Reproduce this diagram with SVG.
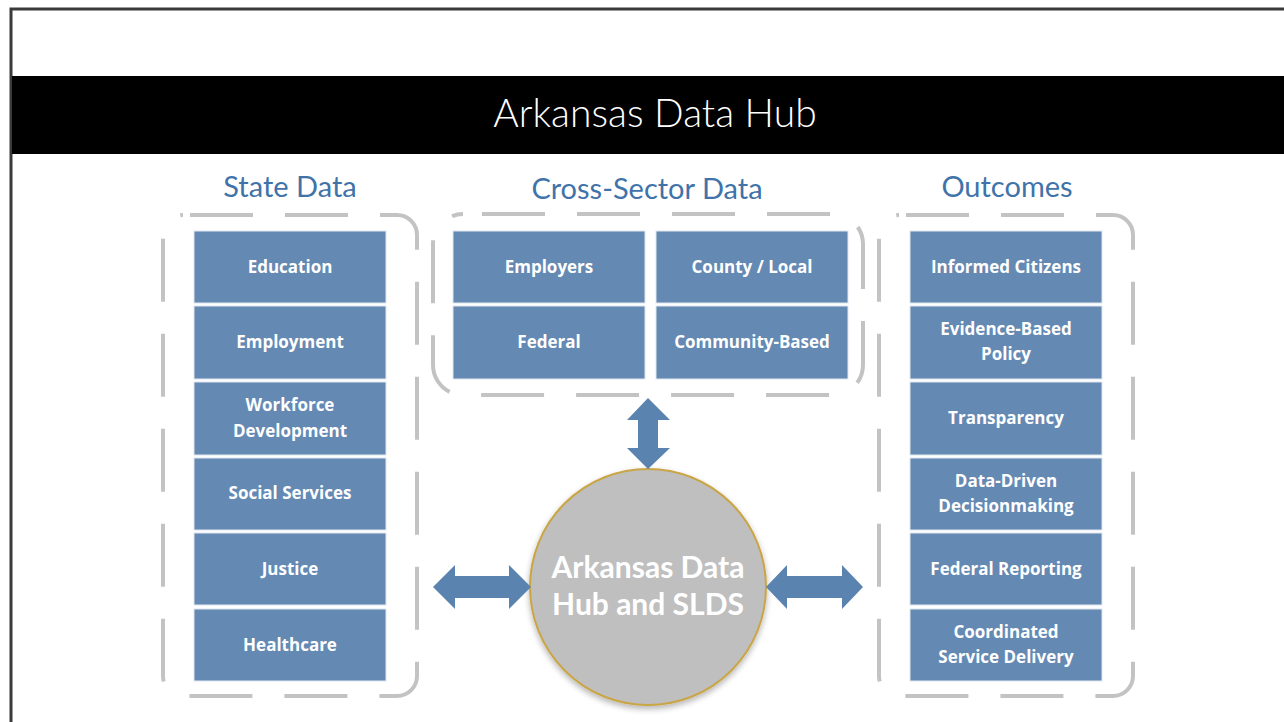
<svg xmlns="http://www.w3.org/2000/svg" width="1284" height="722" viewBox="0 0 1284 722">
<defs>
<style>
.frame{fill:none;stroke:#c3c3c3;stroke-width:4;stroke-dasharray:63 32;stroke-linecap:butt}
.box{fill:#6489b3;stroke:#dfe7f0;stroke-width:1}
.lbl{fill:#ffffff;font-family:"Open Sans",Lato,"Liberation Sans",sans-serif;font-weight:bold;font-size:17px;text-anchor:middle}
.ttl{fill:#3f73a9;font-family:Lato,"Open Sans","Liberation Sans",sans-serif;font-size:29px;text-anchor:middle}
.arr{fill:#5b83b0}
.hubt{fill:#ffffff;font-family:Lato,"Open Sans","Liberation Sans",sans-serif;font-weight:bold;font-size:30px;text-anchor:middle}
</style>
<filter id="sh" x="-20%" y="-20%" width="140%" height="140%">
<feGaussianBlur in="SourceAlpha" stdDeviation="3"/>
<feOffset dx="0" dy="3" result="b"/>
<feComponentTransfer><feFuncA type="linear" slope="0.3"/></feComponentTransfer>
<feMerge><feMergeNode/><feMergeNode in="SourceGraphic"/></feMerge>
</filter>
</defs>
<rect x="0" y="0" width="1284" height="722" fill="#ffffff"/>
<path d="M11,722 V9 H1284" fill="none" stroke="#3a3a3a" stroke-width="3"/>
<rect x="12" y="76" width="1272" height="78" fill="#000000"/>
<text x="655" y="127" fill="#ffffff" font-family="Lato,'Open Sans','Liberation Sans',sans-serif" font-weight="300" font-size="39" text-anchor="middle">Arkansas Data Hub</text>

<g id="titles">
<text class="ttl" x="290" y="197">State Data</text>
<text class="ttl" x="647" y="199">Cross-Sector Data</text>
<text class="ttl" x="1007" y="197">Outcomes</text>
</g>

<g id="frames">
<rect class="frame" x="163" y="215" width="254" height="481" rx="20" stroke-dashoffset="88"/>
<rect class="frame" x="433" y="214" width="430" height="181" rx="30" stroke-dashoffset="76"/>
<rect class="frame" x="879" y="215" width="254" height="481" rx="20" stroke-dashoffset="88"/>
</g>

<g id="state-data">
<g id="education"><rect class="box" x="194" y="231" width="192" height="72"/><text class="lbl" x="290" y="273">Education</text></g>
<g id="employment"><rect class="box" x="194" y="306" width="192" height="73"/><text class="lbl" x="290" y="348">Employment</text></g>
<g id="workforce"><rect class="box" x="194" y="382" width="192" height="73"/><text class="lbl" x="290" y="411">Workforce</text><text class="lbl" x="290" y="437">Development</text></g>
<g id="social"><rect class="box" x="194" y="458" width="192" height="72"/><text class="lbl" x="290" y="499">Social Services</text></g>
<g id="justice"><rect class="box" x="194" y="533" width="192" height="72"/><text class="lbl" x="290" y="575">Justice</text></g>
<g id="healthcare"><rect class="box" x="194" y="609" width="192" height="72"/><text class="lbl" x="290" y="651">Healthcare</text></g>
</g>

<g id="cross-sector">
<g id="employers"><rect class="box" x="453" y="231" width="192" height="72"/><text class="lbl" x="549" y="273">Employers</text></g>
<g id="county"><rect class="box" x="656" y="231" width="192" height="72"/><text class="lbl" x="752" y="273">County / Local</text></g>
<g id="federal"><rect class="box" x="453" y="306" width="192" height="73"/><text class="lbl" x="549" y="348">Federal</text></g>
<g id="community"><rect class="box" x="656" y="306" width="192" height="73"/><text class="lbl" x="752" y="348">Community-Based</text></g>
</g>

<g id="outcomes">
<g id="informed"><rect class="box" x="910" y="231" width="192" height="72"/><text class="lbl" x="1006" y="273">Informed Citizens</text></g>
<g id="evidence"><rect class="box" x="910" y="306" width="192" height="73"/><text class="lbl" x="1006" y="335">Evidence-Based</text><text class="lbl" x="1006" y="360">Policy</text></g>
<g id="transparency"><rect class="box" x="910" y="382" width="192" height="73"/><text class="lbl" x="1006" y="424">Transparency</text></g>
<g id="datadriven"><rect class="box" x="910" y="458" width="192" height="72"/><text class="lbl" x="1006" y="487">Data-Driven</text><text class="lbl" x="1006" y="512">Decisionmaking</text></g>
<g id="fedreporting"><rect class="box" x="910" y="533" width="192" height="72"/><text class="lbl" x="1006" y="575">Federal Reporting</text></g>
<g id="coordinated"><rect class="box" x="910" y="609" width="192" height="72"/><text class="lbl" x="1006" y="638">Coordinated</text><text class="lbl" x="1006" y="663">Service Delivery</text></g>
</g>

<g id="hub">
<circle cx="648" cy="587" r="118" fill="#bfbfbf" stroke="#c9a545" stroke-width="2" filter="url(#sh)"/>
<text class="hubt" x="648" y="578">Arkansas Data</text>
<text class="hubt" x="648" y="615">Hub and SLDS</text>
</g>

<g id="connectors">
<path class="arr" d="M648,398 L670,420 L658,420 L658,448 L670,448 L648,469 L627,448 L638,448 L638,420 L627,420 Z"/>
<path class="arr" d="M433,587 L455,565 L455,576 L509,576 L509,565 L531,587 L509,609 L509,598 L455,598 L455,609 Z"/>
<path class="arr" d="M766,587 L787,565 L787,576 L842,576 L842,565 L863,587 L842,609 L842,598 L787,598 L787,609 Z"/>
</g>
</svg>
